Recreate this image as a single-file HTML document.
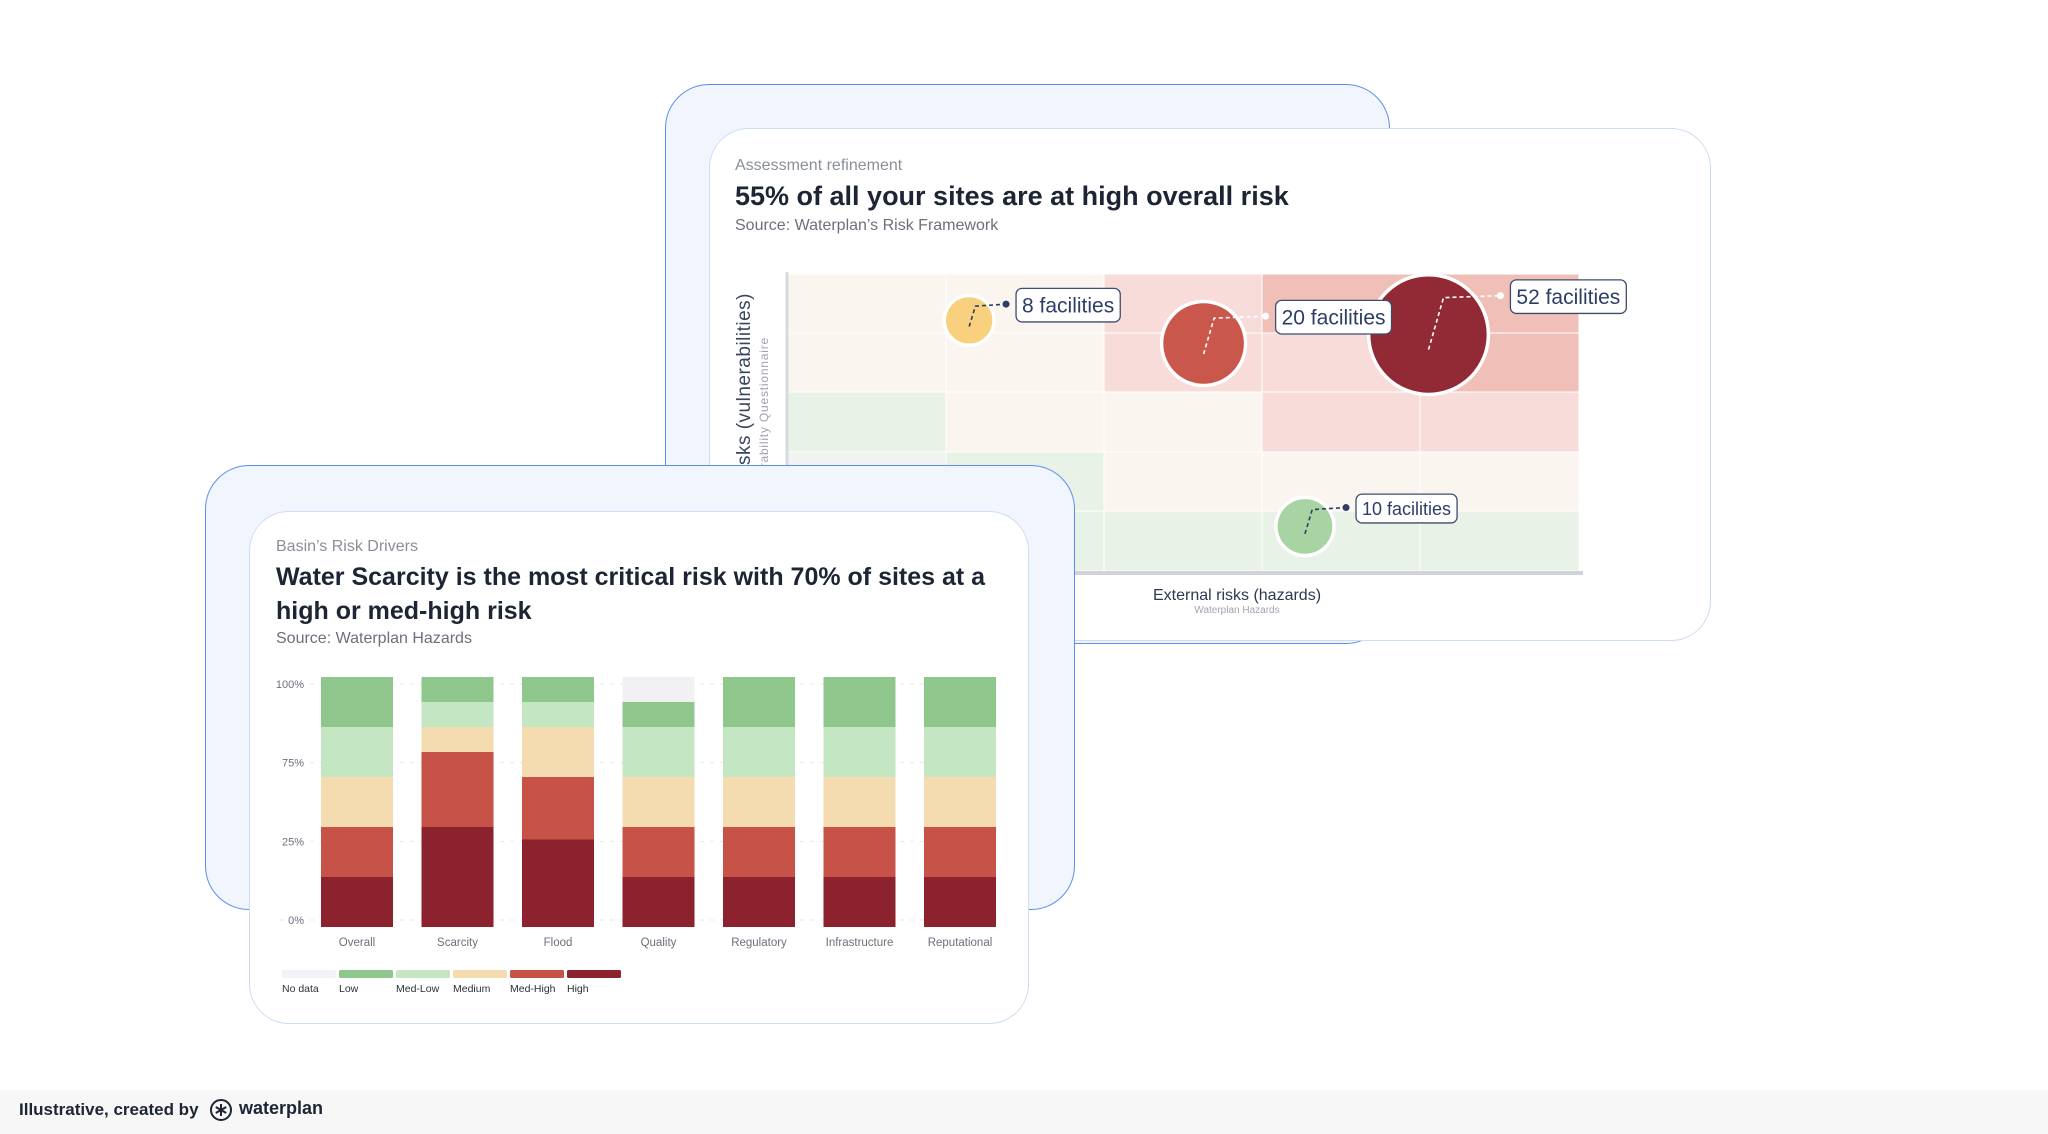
<!DOCTYPE html>
<html><head><meta charset="utf-8"><style>
*{margin:0;padding:0;box-sizing:border-box}
body{width:2048px;height:1134px;background:#fff;position:relative;overflow:hidden;font-family:"Liberation Sans",sans-serif}
.card{position:absolute}
.abs{position:absolute;white-space:nowrap}
</style></head><body>

<div class="card" style="left:665px;top:84px;width:725px;height:560px;background:#f1f6fe;border:1.5px solid #5b8def;border-radius:44px"></div>
<div class="card" style="left:709px;top:128px;width:1002px;height:513px;background:#fff;border:1.5px solid #cfdcf4;border-radius:40px"></div>
<div class="abs" style="left:735px;top:157px;font-size:16px;color:#8a8f98">Assessment refinement</div>
<div class="abs" style="left:735px;top:181px;font-size:27px;font-weight:bold;color:#1d2433">55% of all your sites are at high overall risk</div>
<div class="abs" style="left:735px;top:217px;font-size:16px;color:#6b707a">Source: Waterplan’s Risk Framework</div>

<svg class="abs" style="left:0;top:0" width="2048" height="700" id="mat"></svg>

<div class="card" style="left:205px;top:465px;width:870px;height:445px;background:#f1f6fe;border:1.5px solid #5b8def;border-radius:44px"></div>
<div class="card" style="left:249px;top:511px;width:780px;height:513px;background:#fff;border:1.5px solid #cfdcf4;border-radius:40px"></div>
<div class="abs" style="left:276px;top:538px;font-size:16px;color:#8a8f98">Basin’s Risk Drivers</div>
<div class="abs" style="left:276px;top:560px;font-size:25px;line-height:34px;font-weight:bold;color:#1d2433;white-space:normal;width:740px">Water Scarcity is the most critical risk with 70% of sites at a high or med-high risk</div>
<div class="abs" style="left:276px;top:630px;font-size:16px;color:#6b707a">Source: Waterplan Hazards</div>

<svg class="abs" style="left:0;top:0" width="2048" height="1134" id="bars"></svg>

<div class="abs" style="left:0;top:1090px;width:2048px;height:44px;background:#f7f7f8"></div>
<div class="abs" style="left:19px;top:1100px;font-size:17px;font-weight:bold;color:#1d2433">Illustrative, created by</div>
<svg class="abs" style="left:209px;top:1098px" width="24" height="24"><circle cx="12" cy="12" r="10" fill="none" stroke="#1d2433" stroke-width="2"/><path d="M12 6v12M6.8 9l10.4 6M6.8 15l10.4-6" stroke="#1d2433" stroke-width="2"/></svg>
<div class="abs" style="left:239px;top:1098px;font-size:18px;font-weight:bold;color:#1d2433">waterplan</div>

<script>
// ---------- Risk matrix ----------
const matCols=[787,946,1104,1262,1420,1579];
const matRows=[274,333,392,452,511,571];
const cellGrid=[
 ['c','c','p','d','d'],
 ['c','c','p','p','d'],
 ['g','c','c','p','p'],
 ['n','g','c','c','c'],
 ['n','g','g','g','g']];
const cellColors={c:'#faf6ef',p:'#f7dcd9',d:'#f0c0b8',g:'#e8f2e6',n:'#f2f2f2'};
const bubbleX=[1.15,2.63,4.05,3.27];
const bubbleY=[0.78,1.17,1.02,4.25];
const bubbleCount=[8,20,52,10];
const bubbleColor=['#f8d07e','#c9574b','#922a35','#a8d4a3'];
const NS='http://www.w3.org/2000/svg';
const mat=document.getElementById('mat');
function mk(tag,attrs,parent){const e=document.createElementNS(NS,tag);for(const k in attrs)e.setAttribute(k,attrs[k]);(parent||mat).appendChild(e);return e;}
const cw=(matCols[5]-matCols[0])/5, rh=(matRows[5]-matRows[0])/5;
const mx=v=>matCols[0]+v*cw, my=v=>matRows[0]+v*rh;
for(let r=0;r<5;r++)for(let c=0;c<5;c++){
 const e=mk('rect',{x:matCols[c],y:matRows[r],width:matCols[c+1]-matCols[c],height:matRows[r+1]-matRows[r],fill:cellColors[cellGrid[r][c]],stroke:'#ffffff','stroke-width':1});
 
 
}
let ya=mk('line',{x1:787,y1:272,x2:787,y2:573,stroke:'#d7d9de','stroke-width':3});

let xa=mk('line',{x1:787,y1:573,x2:1583,y2:573,stroke:'#d0d3d9','stroke-width':4});

let yt=mk('text',{x:0,y:0,transform:'translate(750,293) rotate(-90)','text-anchor':'end','font-size':19,fill:'#3a4560','font-family':'Liberation Sans, sans-serif','letter-spacing':'0.5'});
yt.textContent='Internal risks (vulnerabilities)';

let ys=mk('text',{x:0,y:0,transform:'translate(768,337) rotate(-90)','text-anchor':'end','font-size':12,fill:'#a0a4ad','font-family':'Liberation Sans, sans-serif','letter-spacing':'0.8'});
ys.textContent='Vulnerability Questionnaire';

let xt=mk('text',{x:1237,y:600,'text-anchor':'middle','font-size':16,fill:'#2d3850','font-family':'Liberation Sans, sans-serif'});
xt.textContent='External risks (hazards)';

let xs=mk('text',{x:1237,y:613,'text-anchor':'middle','font-size':10,fill:'#a0a4ad','font-family':'Liberation Sans, sans-serif'});
xs.textContent='Waterplan Hazards';

const rScale=n=>Math.max(12,-14+18.7*Math.log(n));
// pass 1: bubbles
for(let i=0;i<bubbleCount.length;i++){
 const cx=mx(bubbleX[i]),cy=my(bubbleY[i]),r=rScale(bubbleCount[i]);
 const b=mk('circle',{cx:cx,cy:cy,r:r,fill:bubbleColor[i],stroke:'#fff','stroke-width':3.5});
 
 
}
// pass 2: connectors and labels
for(let i=0;i<bubbleCount.length;i++){
 const cx=mx(bubbleX[i]),cy=my(bubbleY[i]),r=rScale(bubbleCount[i]);
 const light=i===1||i===2;
 const lc=light?'#ffffff':'#2d3e66';
 const dotY=cy-r*0.65, dotX=cx+r+(i===1?20:12);
 const ln=mk('path',{d:`M${cx} ${cy+r*0.25} L${cx+r*0.25} ${dotY+2} L${dotX} ${dotY}`,fill:'none',stroke:lc,'stroke-width':1.6,'stroke-dasharray':'4 3'});
 
 mk('circle',{cx:dotX,cy:dotY,r:3.5,fill:lc});
 const fs=i===3?18:21;
 const txt=bubbleCount[i]+' facilities';
 const bx=dotX+10, h=fs*1.6, by=dotY-h/2+1;
 const box=mk('rect',{x:bx,y:by,width:10,height:h,rx:6,fill:'#fff',stroke:'#3d4c6e','stroke-width':1.3});
 
 const t=mk('text',{x:bx+6,y:by+h/2+fs*0.36,'font-size':fs,fill:'#2d3e66','font-family':'Liberation Sans, sans-serif'});
 t.textContent=txt;
 
 box.setAttribute('width',t.getComputedTextLength()+12);
}

// ---------- Stacked bar chart ----------
const categories=['Overall','Scarcity','Flood','Quality','Regulatory','Infrastructure','Reputational'];
const seriesNames=['High','Med-High','Medium','Med-Low','Low','No data'];
const high=[20,40,35,20,20,20,20];
const medHigh=[20,30,25,20,20,20,20];
const medium=[20,10,20,20,20,20,20];
const medLow=[20,10,10,20,20,20,20];
const low=[20,10,10,10,20,20,20];
const noData=[0,0,0,10,0,0,0];
const tickLabels=['100%','75%','25%','0%'];
const legendLabels=['No data','Low','Med-Low','Medium','Med-High','High'];
const seriesColors=['#8c222d','#c75247','#f5dbb0','#c4e6c3','#8fc68c','#f1f1f3'];
const legendColors=['#f1f3f7','#8fc68c','#c4e6c3','#f5dbb0','#c75247','#8c222d'];
const series=[high,medHigh,medium,medLow,low,noData];
const bars=document.getElementById('bars');
const y0=927,y1=677,xL=321,step=100.5,bw=72;
const yScale=v=>y0-(v/100)*(y0-y1);
const xScale=i=>xL+i*step;
function bk(tag,attrs){const e=document.createElementNS(NS,tag);for(const k in attrs)e.setAttribute(k,attrs[k]);bars.appendChild(e);return e;}
tickLabels.forEach((t,i)=>{
 const y=(y1+7)+i*((y0-7)-(y1+7))/(tickLabels.length-1);
 const g=bk('line',{x1:280,x2:999,y1:y,y2:y,stroke:'#e8e9ec','stroke-dasharray':'4 6'});
 
 const tx=bk('text',{x:304,y:y+4,'text-anchor':'end','font-size':11,fill:'#6b707a','font-family':'Liberation Sans, sans-serif'});
 tx.textContent=t;
 
});
categories.forEach((c,i)=>{
 let acc=0;
 series.forEach((s,k)=>{
  const v=s[i]; if(!v){return;}
  const r=bk('rect',{x:xScale(i),y:yScale(acc+v),width:bw,height:yScale(acc)-yScale(acc+v),fill:seriesColors[k]});
  
  
  acc+=v;
 });
 const t=bk('text',{x:xScale(i)+bw/2,y:946,'text-anchor':'middle','font-size':11.5,fill:'#6b707a','font-family':'Liberation Sans, sans-serif'});
 t.textContent=c;
 
});
legendLabels.forEach((l,i)=>{
 const x=282+i*57;
 const s=bk('rect',{x:x,y:970,width:54,height:8,rx:1.5,fill:legendColors[i]});
 
 const t=bk('text',{x:x,y:992,'font-size':10.5,fill:'#2b2f38','font-family':'Liberation Sans, sans-serif'});
 t.textContent=l;
 
});
</script>
</body></html>
